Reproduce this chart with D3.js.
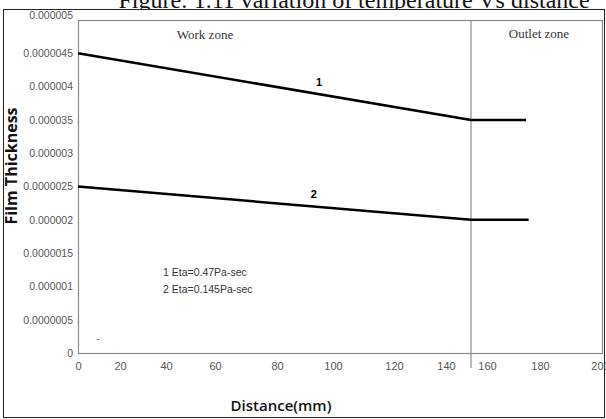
<!DOCTYPE html>
<html>
<head>
<meta charset="utf-8">
<script src="https://cdn.jsdelivr.net/npm/d3@7"></script>
<style>
  body { margin: 0; background: #fff; }
  svg { display: block; }
</style>
</head>
<body>
<svg id="chart" width="606" height="419"></svg>
<script>
// data
var series1X = [0, 150, 171];
var series1Y = [0.0000045, 0.0000035, 0.0000035];
var series2X = [0, 150, 172];
var series2Y = [0.0000025, 0.000002, 0.000002];
var zoneSplit = 150;

var yTickVals = [0, 0.0000005, 0.000001, 0.0000015, 0.000002, 0.0000025, 0.000003, 0.0000035, 0.000004, 0.0000045, 0.000005];
var yTickLabels = ["0", "0.0000005", "0.000001", "0.0000015", "0.000002", "0.0000025", "0.000003", "0.000035", "0.000004", "0.0000045", "0.000005"];
var xTickVals = [0, 20, 40, 60, 80, 100, 120, 140, 160, 180, 200];
// where each x tick label sits in the original (they are not evenly spaced)
var xTickPlaces = [78, 120, 166, 215, 277, 333, 394, 446, 487, 540, 600];
var legendLines = ["1 Eta=0.47Pa-sec", "2 Eta=0.145Pa-sec"];

var svg = d3.select("#chart");
// plot box edges
var pLeft = 78, pRight = 602, pTop = 20, pBottom = 353;

var x = d3.scaleLinear().domain([0, 200]).range([pLeft, pRight]);
var y = d3.scaleLinear().domain([0, 0.000005]).range([pBottom, pTop]);
var xLabelPos = d3.scaleLinear().domain(xTickVals).range(xTickPlaces);

var narrow = "'Liberation Sans Narrow', 'Arial Narrow', 'Liberation Sans', sans-serif";

// title (cut off at the top)
svg.append("text")
    .attr("x", 354).attr("y", 8)
    .attr("text-anchor", "middle")
    .style("font-family", "'Liberation Serif', 'Times New Roman', serif")
    .style("font-size", "24px")
    .attr("fill", "#111")
    .text("Figure: 1.11 variation of temperature Vs distance");

// outer border
svg.append("rect")
    .attr("x", 3.5).attr("y", 9.5)
    .attr("width", 601).attr("height", 408)
    .attr("fill", "#fff").attr("stroke", "#222").attr("stroke-width", 1);

// plot frame
svg.append("rect")
    .attr("x", pLeft + 0.5).attr("y", pTop + 0.5)
    .attr("width", pRight - pLeft).attr("height", pBottom - pTop)
    .attr("fill", "none").attr("stroke", "#8a8a8a").attr("stroke-width", 1.2);

// zone divider
svg.append("line")
    .attr("x1", x(zoneSplit)).attr("x2", x(zoneSplit))
    .attr("y1", pTop).attr("y2", 368)
    .attr("stroke", "#8a8a8a").attr("stroke-width", 1.2);

// y axis
var yAxis = svg.append("g")
    .attr("transform", "translate(" + pLeft + ",0)")
    .call(d3.axisLeft(y).tickValues(yTickVals)
        .tickFormat(function (d, i) { return yTickLabels[i]; })
        .tickSize(0).tickPadding(5));
yAxis.select(".domain").remove();
yAxis.selectAll("text")
    .style("font-family", narrow)
    .style("font-size", "10.5px")
    .attr("fill", "#555");
// the top label sits a little higher in the original
yAxis.selectAll(".tick").filter(function (d) { return d === 0.000005; })
    .select("text").attr("dy", "-0.15em");

// x axis labels
var xAxis = svg.append("g")
    .attr("transform", "translate(0," + pBottom + ")")
    .call(d3.axisBottom(xLabelPos).tickValues(xTickVals)
        .tickSize(0).tickPadding(9));
xAxis.select(".domain").remove();
xAxis.selectAll("text")
    .style("font-family", narrow)
    .style("font-size", "11px")
    .attr("fill", "#555");

// lines
var line = d3.line()
    .x(function (d) { return x(d[0]); })
    .y(function (d) { return y(d[1]); });

[[series1X, series1Y], [series2X, series2Y]].forEach(function (s) {
    var pts = s[0].map(function (v, i) { return [v, s[1][i]]; });
    svg.append("path")
        .datum(pts)
        .attr("d", line)
        .attr("fill", "none")
        .attr("stroke", "#000")
        .attr("stroke-width", 2.5);
});

// series numbers, just above their lines
svg.append("text").attr("x", x(92)).attr("y", y(0.0000041) + 6)
    .style("font-family", "'Liberation Sans', sans-serif").style("font-size", "11px")
    .style("font-weight", "bold").attr("text-anchor", "middle").text("1");
svg.append("text").attr("x", x(90)).attr("y", y(0.0000024) + 5)
    .style("font-family", "'Liberation Sans', sans-serif").style("font-size", "11px")
    .style("font-weight", "bold").attr("text-anchor", "middle").text("2");

// zone labels
svg.append("text").attr("x", 205).attr("y", 39)
    .attr("text-anchor", "middle")
    .style("font-family", "'Liberation Serif', serif").style("font-size", "13px")
    .attr("fill", "#333").text("Work zone");
svg.append("text").attr("x", 539).attr("y", 38)
    .attr("text-anchor", "middle")
    .style("font-family", "'Liberation Serif', serif").style("font-size", "13px")
    .attr("fill", "#333").text("Outlet zone");

// legend text
svg.selectAll(".legend")
    .data(legendLines)
    .enter().append("text")
    .attr("class", "legend")
    .attr("x", 163)
    .attr("y", function (d, i) { return 276 + i * 17; })
    .style("font-family", narrow)
    .style("font-size", "10.5px")
    .attr("fill", "#333")
    .text(function (d) { return d; });

// stray mark near the origin
svg.append("text").attr("x", 98).attr("y", 342)
    .attr("text-anchor", "middle")
    .style("font-family", narrow).style("font-size", "10px")
    .attr("fill", "#666").text("-");

// axis titles
svg.append("text")
    .attr("x", 281).attr("y", 411)
    .attr("text-anchor", "middle")
    .style("font-family", "'Open Sans', 'Liberation Sans', sans-serif")
    .style("font-size", "15px")
    .style("font-weight", "600")
    .attr("fill", "#111")
    .text("Distance(mm)");

svg.append("text")
    .attr("transform", "translate(17,166) rotate(-90)")
    .attr("text-anchor", "middle")
    .style("font-family", "'Open Sans', 'Liberation Sans', sans-serif")
    .style("font-size", "16px")
    .style("font-weight", "bold")
    .attr("fill", "#111")
    .text("Film Thickness");
</script>
</body>
</html>
